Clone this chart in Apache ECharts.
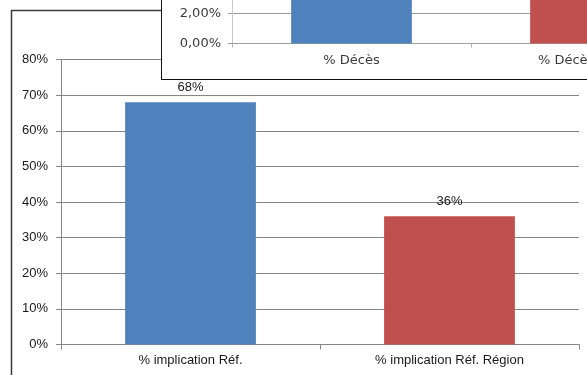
<!DOCTYPE html>
<html>
<head>
<meta charset="utf-8">
<script src="https://cdn.jsdelivr.net/npm/echarts@6/dist/echarts.min.js"></script>
<style>
  html, body { margin: 0; padding: 0; background: #fff; overflow: hidden; }
  #page { position: relative; width: 587px; height: 375px; overflow: hidden; }
  #main { position: absolute; left: 0; top: 0; width: 587px; height: 375px; }
  #inset {
    position: absolute; left: 161px; top: -100px; width: 600px; height: 178px;
    background: #fff; border: 1px solid #111; z-index: 2;
  }
</style>
</head>
<body>
<div id="page">
  <div id="main"></div>
  <div id="inset"></div>
</div>
<script>
// Main chart: share of implication
const mainCategories = ['% implication Réf.', '% implication Réf. Région'];
const mainValues = [68, 36];
const mainTicks = { min: 0, max: 80, interval: 10 };

// Overlaid chart: death rate
const insetCategories = ['% Décès', '% Décès Région'];
const insetValues = [6.4, 4.8];
const insetTicks = { min: 0, max: 8, interval: 2 };

const barColors = ['#4F81BD', '#C0504D'];
const axisGray = '#868686';
const mainFont = { fontFamily: 'Liberation Sans, Arial, sans-serif', fontSize: 13, color: '#1a1a1a' };
const insetFont = { fontFamily: 'DejaVu Sans, sans-serif', fontSize: 13, color: '#3a3a3a' };

const mainChart = echarts.init(document.getElementById('main'), null, { renderer: 'canvas' });
mainChart.setOption({
  animation: false,
  graphic: [{
    type: 'rect', z: 0, silent: true,
    shape: { x: 11.5, y: 10.5, width: 700, height: 500 },
    style: { fill: '#fff', stroke: '#3a3a3a', lineWidth: 1.5 }
  }],
  grid: { left: 61, top: 59.5, width: 518, height: 285, containLabel: false },
  xAxis: {
    type: 'category', data: mainCategories,
    axisLine: { lineStyle: { color: axisGray, width: 1 } },
    axisTick: { show: true, length: 5, lineStyle: { color: axisGray } },
    axisLabel: Object.assign({ margin: 9 }, mainFont)
  },
  yAxis: {
    type: 'value',
    min: mainTicks.min, max: mainTicks.max, interval: mainTicks.interval,
    axisLine: { show: true, lineStyle: { color: axisGray, width: 1 } },
    axisTick: { show: true, length: 5, lineStyle: { color: axisGray } },
    splitLine: { show: true, lineStyle: { color: axisGray, width: 1 } },
    axisLabel: Object.assign({ margin: 13, formatter: v => v + '%' }, mainFont)
  },
  series: [{
    type: 'bar',
    barWidth: '50.5%',
    data: mainValues.map((v, i) => ({ value: v, itemStyle: { color: barColors[i] } })),
    label: Object.assign({ show: true, position: 'top', distance: 8, formatter: p => p.value + '%' }, mainFont)
  }]
});

const insetChart = echarts.init(document.getElementById('inset'), null, { renderer: 'canvas' });
insetChart.setOption({
  animation: false,
  grid: { left: 70, top: 22.5, width: 478, height: 120, containLabel: false },
  xAxis: {
    type: 'category', data: insetCategories,
    axisLine: { lineStyle: { color: '#a0a0a0', width: 1 } },
    axisTick: { show: true, length: 4, lineStyle: { color: '#b0b0b0' } },
    axisLabel: Object.assign({ margin: 11 }, insetFont)
  },
  yAxis: {
    type: 'value',
    min: insetTicks.min, max: insetTicks.max, interval: insetTicks.interval,
    axisLine: { show: true, lineStyle: { color: '#c8c8c8', width: 1 } },
    axisTick: { show: true, length: 4, lineStyle: { color: '#a0a0a0' } },
    splitLine: { show: true, lineStyle: { color: '#9a9a9a', width: 1 } },
    axisLabel: Object.assign({ margin: 11, formatter: v => v.toFixed(2).replace('.', ',') + '%' }, insetFont)
  },
  series: [{
    type: 'bar',
    barWidth: '50.5%',
    data: insetValues.map((v, i) => ({ value: v, itemStyle: { color: barColors[i] } }))
  }]
});
</script>
</body>
</html>
